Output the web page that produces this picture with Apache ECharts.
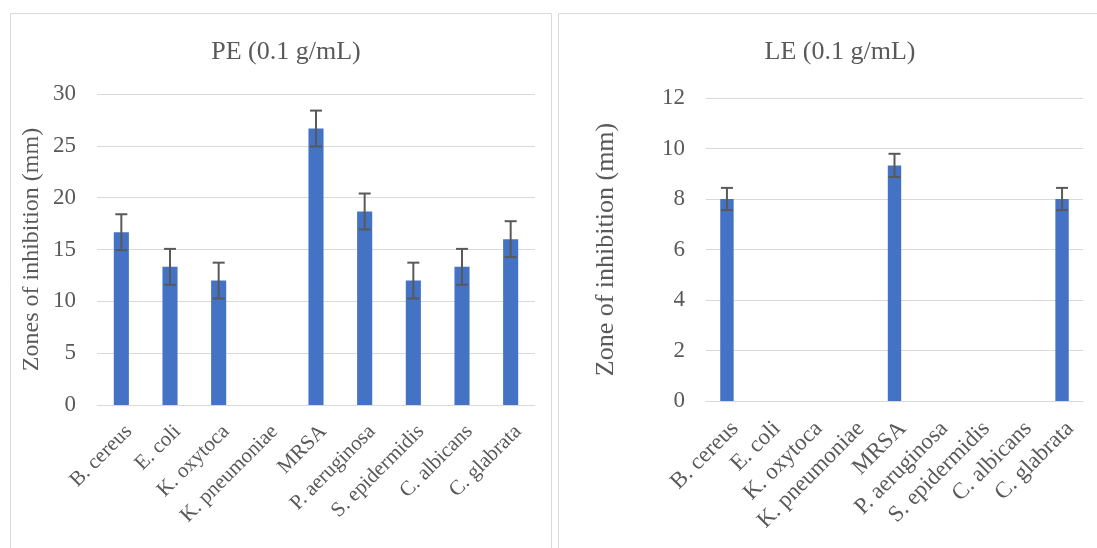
<!DOCTYPE html>
<html>
<head>
<meta charset="utf-8">
<script src="https://cdn.jsdelivr.net/npm/echarts@6/dist/echarts.min.js"></script>
<style>html,body{margin:0;padding:0;background:#fff;}#c{width:1097px;height:548px;}</style>
</head>
<body>
<div id="c"></div>
<script>
var categories = ['B. cereus', 'E. coli', 'K. oxytoca', 'K. pneumoniae', 'MRSA', 'P. aeruginosa', 'S. epidermidis', 'C. albicans', 'C. glabrata'];
var peValues = [16.67, 13.33, 12, 0, 26.67, 18.67, 12, 13.33, 16];
var peErrors = [1.73, 1.73, 1.73, 0, 1.73, 1.73, 1.73, 1.73, 1.73];
var leValues = [8, 0, 0, 0, 9.33, 0, 0, 0, 8];
var leErrors = [0.44, 0, 0, 0, 0.46, 0, 0, 0, 0.44];
var peTitle = 'PE (0.1 g/mL)';
var leTitle = 'LE (0.1 g/mL)';
var peAxisName = 'Zones of inhibition (mm)';
var leAxisName = 'Zone of inhibition (mm)';

var FONT = '"Liberation Serif", "Times New Roman", serif';
var TXT = '#595959';
var GRIDC = '#d9d9d9';

function errData(vals, errs) {
  return vals.map(function (v, i) { return [i, v, errs[i]]; });
}
function renderErr(params, api) {
  var i = api.value(0), v = api.value(1), e = api.value(2);
  if (!v || !e) return null;
  var hi = api.coord([i, v + e]);
  var lo = api.coord([i, v - e]);
  var hw = 6;
  var st = { stroke: '#595959', lineWidth: 2 };
  return {
    type: 'group',
    children: [
      { type: 'line', shape: { x1: hi[0], y1: hi[1], x2: lo[0], y2: lo[1] }, style: st },
      { type: 'line', shape: { x1: hi[0] - hw, y1: hi[1], x2: hi[0] + hw, y2: hi[1] }, style: st },
      { type: 'line', shape: { x1: lo[0] - hw, y1: lo[1], x2: lo[0] + hw, y2: lo[1] }, style: st }
    ]
  };
}
function xAxis(gi, fs) {
  return {
    type: 'category', gridIndex: gi, data: categories,
    axisLine: { show: true, lineStyle: { color: GRIDC, width: 1 } },
    axisTick: { show: false },
    axisLabel: { interval: 0, rotate: 45, margin: 16, verticalAlign: 'top', color: TXT, fontFamily: FONT, fontSize: fs }
  };
}
function yAxis(gi, max, interval, name, nameGap, nameSize) {
  return {
    type: 'value', gridIndex: gi, min: 0, max: max, interval: interval,
    name: name, nameLocation: 'middle', nameGap: nameGap,
    nameTextStyle: { color: TXT, fontFamily: FONT, fontSize: nameSize },
    axisLine: { show: false }, axisTick: { show: false },
    axisLabel: { color: TXT, fontFamily: FONT, fontSize: 23, margin: 21 },
    splitLine: { lineStyle: { color: GRIDC, width: 1 } }
  };
}

var chart = echarts.init(document.getElementById('c'), null, { renderer: 'canvas' });
chart.setOption({
  backgroundColor: '#fff',
  animation: false,
  graphic: [
    { type: 'rect', shape: { x: 10.5, y: 13.5, width: 541, height: 560 }, style: { fill: 'none', stroke: GRIDC, lineWidth: 1 } },
    { type: 'rect', shape: { x: 558.5, y: 13.5, width: 560, height: 560 }, style: { fill: 'none', stroke: GRIDC, lineWidth: 1 } }
  ],
  title: [
    { text: peTitle, left: 281, top: 34, textAlign: 'center', textStyle: { color: TXT, fontFamily: FONT, fontSize: 26, fontWeight: 'normal' } },
    { text: leTitle, left: 835, top: 34, textAlign: 'center', textStyle: { color: TXT, fontFamily: FONT, fontSize: 26, fontWeight: 'normal' } }
  ],
  grid: [
    { left: 97, right: 562, top: 94, bottom: 143, containLabel: false },
    { left: 706, right: 14, top: 98, bottom: 147, containLabel: false }
  ],
  xAxis: [xAxis(0, 21), xAxis(1, 23)],
  yAxis: [yAxis(0, 30, 5, peAxisName, 53, 24), yAxis(1, 12, 2, leAxisName, 87, 26)],
  series: [
    { type: 'bar', xAxisIndex: 0, yAxisIndex: 0, data: peValues, barWidth: '31%',
      itemStyle: { color: '#4472C4' } },
    { type: 'custom', xAxisIndex: 0, yAxisIndex: 0, data: errData(peValues, peErrors), renderItem: renderErr, z: 5 },
    { type: 'bar', xAxisIndex: 1, yAxisIndex: 1, data: leValues, barWidth: '32%',
      itemStyle: { color: '#4472C4' } },
    { type: 'custom', xAxisIndex: 1, yAxisIndex: 1, data: errData(leValues, leErrors), renderItem: renderErr, z: 5 }
  ]
});
</script>
</body>
</html>
